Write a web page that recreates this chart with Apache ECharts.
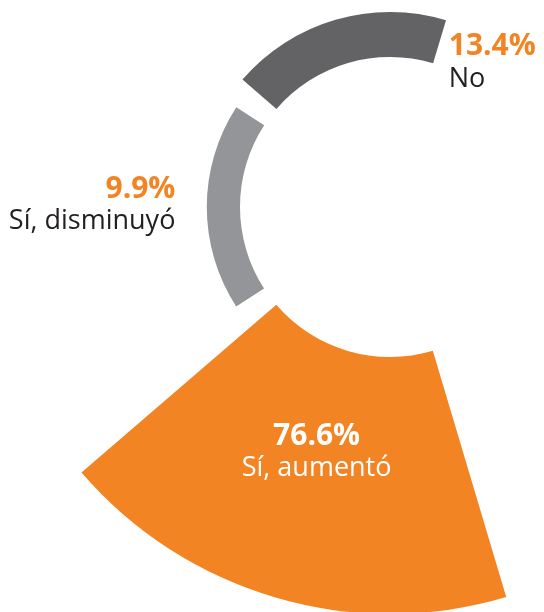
<!DOCTYPE html>
<html>
<head>
<meta charset="utf-8">
<script src="https://cdn.jsdelivr.net/npm/echarts@6/dist/echarts.min.js"></script>
<style>
  html, body { margin: 0; padding: 0; background: #fff; }
  #main { width: 544px; height: 612px; }
</style>
</head>
<body>
<div id="main"></div>
<script>
// datos
var categories = ['Sí, aumentó', 'Sí, disminuyó', 'No'];
var percents = [76.6, 9.9, 13.4];

// estilos por sector
var colors = ['#f28423', '#939598', '#636365'];
var valueColors = ['#ffffff', '#f28423', '#f28423'];
var nameColors = ['#ffffff', '#231f20', '#231f20'];
var aligns = ['center', 'right', 'left'];
var offsets = [[5, -22], [-48, -2], [107, 21]];

var chart = echarts.init(document.getElementById('main'));

var seriesData = percents.map(function (v, i) {
    return {
        value: v,
        itemStyle: { color: colors[i] },
        label: {
            align: aligns[i],
            offset: offsets[i],
            rich: {
                v: { fontFamily: 'Open Sans', fontWeight: 'bold', fontSize: 30, lineHeight: 33, color: valueColors[i], align: aligns[i] },
                n: { fontFamily: 'Open Sans', fontSize: 27, lineHeight: 31, color: nameColors[i], align: aligns[i] }
            }
        }
    };
});

var option = {
    animation: false,
    polar: {
        center: [390, 207],
        radius: [150, 407]
    },
    angleAxis: {
        type: 'category',
        data: categories,
        startAngle: -69.5,
        endAngle: -290.6,
        clockwise: true,
        show: false
    },
    radiusAxis: {
        type: 'value',
        min: 0,
        max: 'dataMax',
        show: false
    },
    series: [{
        type: 'bar',
        coordinateSystem: 'polar',
        data: seriesData,
        barCategoryGap: '10.6%',
        label: {
            show: true,
            position: 'middle',
            rotate: 0,
            formatter: function (p) {
                return '{v|' + p.value + '%}\n{n|' + p.name + '}';
            }
        }
    }]
};

chart.setOption(option);
</script>
</body>
</html>
